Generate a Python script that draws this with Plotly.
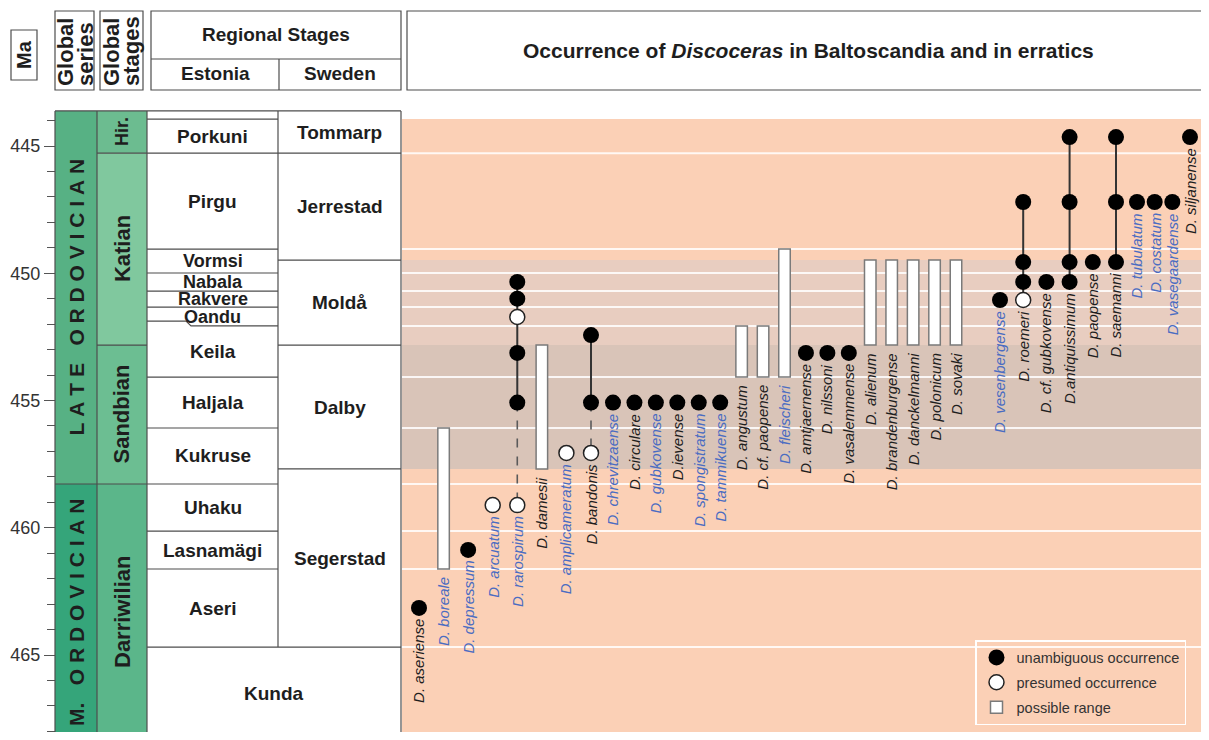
import plotly.graph_objects as go

# ---------------- data ----------------
species = [
    "D. aseriense", "D. boreale", "D. depressum", "D. arcuatum", "D. rarospirum",
    "D. damesii", "D. amplicameratum", "D. bandonis", "D. chrevitzaense", "D. circulare",
    "D. gubkovense", "D.ievense", "D. spongistratum", "D. tammikuense", "D. angustum",
    "D. cf. paopense", "D. fleischeri", "D. amtjaernense", "D. nilssoni", "D. vasalemmense",
    "D. alienum", "D. brandenburgense", "D. danckelmanni", "D. polonicum", "D. sovaki",
    "D. vesenbergense", "D. roemeri", "D. cf. gubkovense", "D.antiquissimum", "D. paopense",
    "D. saemanni", "D. tubulatum", "D. costatum", "D. vasegaardense", "D. siljanense",
]
erratic_record = [
    False, True, True, True, True,
    False, True, False, True, False,
    True, False, True, True, False,
    False, True, False, False, False,
    False, False, False, False, False,
    True, False, False, False, False,
    False, True, True, True, False,
]

unamb_species = [
    "D. aseriense", "D. depressum",
    "D. rarospirum", "D. rarospirum", "D. rarospirum", "D. rarospirum",
    "D. bandonis", "D. bandonis",
    "D. chrevitzaense", "D. circulare", "D. gubkovense", "D.ievense", "D. spongistratum", "D. tammikuense",
    "D. amtjaernense", "D. nilssoni", "D. vasalemmense",
    "D. vesenbergense",
    "D. roemeri", "D. roemeri", "D. roemeri",
    "D. cf. gubkovense",
    "D.antiquissimum", "D.antiquissimum", "D.antiquissimum", "D.antiquissimum",
    "D. paopense",
    "D. saemanni", "D. saemanni", "D. saemanni",
    "D. tubulatum", "D. costatum", "D. vasegaardense",
    "D. siljanense",
]
unamb_age = [
    463.15, 460.87,
    455.08, 453.13, 451.00, 450.34,
    455.08, 452.43,
    455.08, 455.08, 455.08, 455.08, 455.08, 455.08,
    453.13, 453.13, 453.13,
    451.05,
    450.34, 449.56, 447.20,
    450.34,
    450.34, 449.56, 447.20, 444.65,
    449.56,
    449.56, 447.20, 444.65,
    447.20, 447.20, 447.20,
    444.65,
]

pres_species = ["D. arcuatum", "D. rarospirum", "D. rarospirum", "D. amplicameratum", "D. bandonis", "D. roemeri"]
pres_age = [459.11, 459.11, 451.72, 457.06, 457.06, 451.05]

range_species = ["D. boreale", "D. damesii", "D. angustum", "D. cf. paopense", "D. fleischeri",
                 "D. alienum", "D. brandenburgense", "D. danckelmanni", "D. polonicum", "D. sovaki"]
range_top = [456.08, 452.82, 452.07, 452.07, 449.05, 449.48, 449.48, 449.48, 449.48, 449.48]
range_base = [461.62, 457.69, 454.08, 454.08, 454.08, 452.82, 452.82, 452.82, 452.82, 452.82]

link_species = ["D. rarospirum", "D. rarospirum", "D. bandonis", "D. bandonis",
                "D. roemeri", "D.antiquissimum", "D. saemanni"]
link_top = [450.34, 455.08, 452.43, 455.08, 447.20, 444.65, 444.65]
link_base = [455.08, 459.11, 455.08, 457.06, 451.05, 450.34, 449.56]
link_certain = [True, False, True, False, True, True, True]

# stratigraphy (ages in Ma)
column_top = 443.62
axis_top = 443.585
ref_bottom = 468.34
series_names = ["LATE ORDOVICIAN", "M. ORDOVICIAN"]
series_bases = [458.28, 469.0]
stage_names = ["Hir.", "Katian", "Sandbian", "Darriwilian"]
stage_bases = [445.28, 452.82, 458.28, 469.0]
estonia_names = ["", "Porkuni", "Pirgu", "Vormsi", "Nabala", "Rakvere", "Oandu",
                 "Keila", "Haljala", "Kukruse", "Uhaku", "Lasnamägi", "Aseri"]
estonia_bases = [443.94, 445.28, 449.05, 449.99, 450.70, 451.33, 452.07,
                 454.08, 456.08, 458.28, 460.13, 461.62, 464.69]
oandu_base_west = 451.88
sweden_names = ["Tommarp", "Jerrestad", "Moldå", "Dalby", "Segerstad"]
sweden_bases = [445.28, 449.48, 452.82, 457.69, 464.69]
shared_name = "Kunda"
shared_base = 469.0

# ---------------- layout helpers ----------------
# helpers take page pixel coordinates; the html body adds an 8 px margin all round
OFF = 8
PAGE_W, PAGE_H = 1209, 740
W, H = PAGE_W - 2 * OFF, PAGE_H - 2 * OFF
TOP = 110 - OFF
PX_PER_MA = 25.45
axis_bottom = axis_top + (PAGE_H - OFF - 110) / PX_PER_MA
FONT = "Liberation Sans, Arial, Helvetica, sans-serif"
EDGE = "#4d4d4d"
TXT = "#1e1e1e"
BLUE = "#4a6cc2"

# column groups of the occurrence panel: first species index, page px of first/last column centre
GROUP_FIRST = [0, 8, 25, 31]
GROUP_PX = [(419, 591), (613, 956), (1000, 1116), (1137, 1190)]
GROUP_AXES = ["x", "x3", "x4", "x5"]
BAR_PX = 11.5


def px_x(px):
    return (px - OFF) / W


def px_y(py):
    return (H - (py - OFF)) / (H - TOP)


shapes = []
annotations = []


def hline_x2(x0, x1, y, width=1.2):
    shapes.append(dict(type="line", xref="x2", yref="y", x0=x0, x1=x1, y0=y, y1=y,
                       line=dict(color=EDGE, width=width), layer="above"))


def vline_x2(x, y0, y1, width=1.2):
    shapes.append(dict(type="line", xref="x2", yref="y", x0=x, x1=x, y0=y0, y1=y1,
                       line=dict(color=EDGE, width=width), layer="above"))


def fill_x2(x0, x1, y0, y1, color):
    shapes.append(dict(type="rect", xref="x2", yref="y", x0=x0, x1=x1, y0=y0, y1=y1,
                       fillcolor=color, line=dict(width=0), layer="below"))


def paper_box(x0, y0, x1, y1):
    shapes.append(dict(type="rect", xref="paper", yref="paper", x0=px_x(x0), x1=px_x(x1),
                       y0=px_y(y1), y1=px_y(y0), line=dict(color=EDGE, width=1.2),
                       fillcolor="rgba(0,0,0,0)"))


def paper_line(x0, y0, x1, y1):
    shapes.append(dict(type="line", xref="paper", yref="paper", x0=px_x(x0), x1=px_x(x1),
                       y0=px_y(y0), y1=px_y(y1), line=dict(color=EDGE, width=1.2)))


def paper_text(text, x, y, size, angle=0, xanchor="center", yanchor="middle"):
    annotations.append(dict(text=text, xref="paper", yref="paper", x=px_x(x), y=px_y(y),
                            showarrow=False, textangle=angle, xanchor=xanchor, yanchor=yanchor,
                            font=dict(family=FONT, size=size, color=TXT), borderpad=0))


def col_text(text, x, y, size, angle=0):
    annotations.append(dict(text=text, xref="x2", yref="y", x=x, y=y, showarrow=False,
                            textangle=angle, xanchor="center", yanchor="middle",
                            font=dict(family=FONT, size=size, color=TXT), borderpad=0))


def spaced(text):
    out = []
    for ch in text:
        if ch == " ":
            out.append("\u00a0\u00a0\u00a0")
        else:
            if out and out[-1] != "\u00a0\u00a0\u00a0" and ch != ".":
                out.append("\u00a0")
            out.append(ch)
    return "".join(out)


# ---------------- chart background (Ma bands + stage lines) ----------------
CH0 = px_x(402)
shapes.append(dict(type="rect", xref="paper", yref="y", x0=CH0, x1=1, y0=estonia_bases[0], y1=shared_base,
                   fillcolor="#fbd0b6", line=dict(width=0), layer="below"))
shapes.append(dict(type="rect", xref="paper", yref="y", x0=CH0, x1=1, y0=sweden_bases[1], y1=sweden_bases[2],
                   fillcolor="#e8cdc0", line=dict(width=0), layer="below"))
shapes.append(dict(type="rect", xref="paper", yref="y", x0=CH0, x1=1, y0=sweden_bases[2], y1=sweden_bases[3],
                   fillcolor="#d9c4b8", line=dict(width=0), layer="below"))
for b in estonia_bases[1:]:
    shapes.append(dict(type="line", xref="paper", yref="y", x0=CH0, x1=1, y0=b, y1=b,
                       line=dict(color="rgba(255,255,255,0.85)", width=2), layer="below"))

# ---------------- stratigraphic column (x2 units = page px) ----------------
SER = (55, 97)
STG = (97, 147)
EST = (147, 278)
SWE = (278, 401)
series_colors = ["#57b184", "#35a57a"]
stage_colors = ["#6cbc90", "#80c89e", "#6cbe92", "#5bb68a"]

tops = [column_top] + series_bases[:-1]
for name, t, b, c in zip(series_names, tops, series_bases, series_colors):
    fill_x2(SER[0], SER[1], t, b, c)
    col_text("<b>" + spaced(name) + "</b>", (SER[0] + SER[1]) / 2, (t + min(b, ref_bottom)) / 2, 21, -90)

tops = [column_top] + stage_bases[:-1]
for name, t, b, c in zip(stage_names, tops, stage_bases, stage_colors):
    fill_x2(STG[0], STG[1], t, b, c)
    col_text("<b>" + name + "</b>", (STG[0] + STG[1]) / 2, (t + min(b, ref_bottom)) / 2,
             18 if len(name) < 5 else 22, -90)

tops = [column_top] + estonia_bases[:-1]
for name, t, b in zip(estonia_names, tops, estonia_bases):
    if name:
        thin = (b - t) * PX_PER_MA < 26
        col_text("<b>" + name + "</b>", (EST[0] + EST[1]) / 2, (t + b) / 2, 18 if thin else 19)
tops = [column_top] + sweden_bases[:-1]
for name, t, b in zip(sweden_names, tops, sweden_bases):
    col_text("<b>" + name + "</b>", (SWE[0] + SWE[1]) / 2, (t + b) / 2, 19)
col_text("<b>" + shared_name + "</b>", (EST[0] + SWE[1]) / 2, (sweden_bases[-1] + ref_bottom) / 2, 19)

hline_x2(SER[0], SWE[1], column_top)
for b in estonia_bases[:-1]:
    if b == estonia_bases[6]:
        continue
    hline_x2(EST[0], EST[1], b)
shapes.append(dict(type="path", xref="x2", yref="y",
                   path=f"M {EST[0]},{oandu_base_west} L 186,{oandu_base_west} L 191,{estonia_bases[6]} L {EST[1]},{estonia_bases[6]}",
                   line=dict(color=EDGE, width=1.2), layer="above"))
hline_x2(EST[0], SWE[1], estonia_bases[-1])
for b in sweden_bases[:-1]:
    hline_x2(SWE[0], SWE[1], b)
for b in stage_bases[:-2]:
    hline_x2(STG[0], STG[1], b)
hline_x2(SER[0], STG[1], series_bases[0])
for x in (SER[0], SER[1], STG[1], SWE[1]):
    vline_x2(x, column_top, shared_base)
vline_x2(SWE[0], column_top, sweden_bases[-1])

# ---------------- header ----------------
paper_box(11, 30, 37, 80)
paper_text("<b>Ma</b>", 24, 55, 20, -90)
paper_box(55, 11, 94, 90)
paper_text("<b>Global</b>", 65, 87, 22, -90, yanchor="bottom")
paper_text("<b>series</b>", 85, 87, 22, -90, yanchor="bottom")
paper_box(100, 11, 143, 90)
paper_text("<b>Global</b>", 111, 87, 22, -90, yanchor="bottom")
paper_text("<b>stages</b>", 131, 87, 22, -90, yanchor="bottom")
paper_box(151, 11, 401, 90)
paper_line(151, 59, 401, 59)
paper_line(279, 59, 279, 90)
paper_text("<b>Regional Stages</b>", 276, 35, 19)
paper_text("<b>Estonia</b>", 215, 74, 19)
paper_text("<b>Sweden</b>", 340, 74, 19)
paper_box(407, 11, 1212, 90)
paper_text("<b>Occurrence of <i>Discoceras</i> in Baltoscandia and in erratics</b>", 808, 50, 21)

# ---------------- column groups -> category axes ----------------
fig = go.Figure()
axis_layout = {}
group_of = {}
group_step = []
bounds = GROUP_FIRST + [len(species)]
for g, ax in enumerate(GROUP_AXES):
    members = species[bounds[g]:bounds[g + 1]]
    for s in members:
        group_of[s] = g
    n = len(members)
    p0, p1 = GROUP_PX[g]
    step = (p1 - p0) / (n - 1)
    group_step.append(step)
    lo = p0 - step / 2
    hi = min(p1 + step / 2, PAGE_W - OFF)
    key = "xaxis" if ax == "x" else "xaxis" + ax[1:]
    axis_layout[key] = dict(domain=[px_x(lo), px_x(hi)], type="category", categoryorder="array",
                            categoryarray=members, range=[-(p0 - lo) / step, (n - 1) + (hi - p1) / step],
                            visible=False, anchor="y")


def pick(g, names, *cols):
    idx = [i for i, s in enumerate(names) if group_of[s] == g]
    return [[names[i] for i in idx]] + [[c[i] for i in idx] for c in cols]


legend_done = set()
for g, ax in enumerate(GROUP_AXES):
    for certain in (True, False):
        xs, ys = [], []
        for s, t, b, c in zip(link_species, link_top, link_base, link_certain):
            if c == certain and group_of[s] == g:
                xs += [s, s, None]
                ys += [t, b, None]
        if xs:
            fig.add_trace(go.Scatter(x=xs, y=ys, xaxis=ax, yaxis="y", mode="lines", showlegend=False,
                                     hoverinfo="skip",
                                     line=dict(color="#333333" if certain else "#5a5a5a",
                                               width=2 if certain else 1.6,
                                               dash="solid" if certain else "dash")))
    rs, rt, rb = pick(g, range_species, range_top, range_base)
    if rs:
        fig.add_trace(go.Bar(x=rs, y=[b - t for t, b in zip(rt, rb)], base=rt, xaxis=ax, yaxis="y",
                             width=BAR_PX / group_step[g], name="possible range", legendrank=3,
                             legendgroup="c", showlegend="c" not in legend_done, hoverinfo="skip",
                             marker=dict(color="white", line=dict(color="#7a7a7a", width=1.5))))
        legend_done.add("c")
    us, ua = pick(g, unamb_species, unamb_age)
    if us:
        fig.add_trace(go.Scatter(x=us, y=ua, xaxis=ax, yaxis="y", mode="markers",
                                 name="unambiguous occurrence", legendrank=1, legendgroup="a",
                                 showlegend="a" not in legend_done, hoverinfo="skip",
                                 marker=dict(symbol="circle", size=16, color="black", line=dict(width=0))))
        legend_done.add("a")
    ps, pa = pick(g, pres_species, pres_age)
    if ps:
        fig.add_trace(go.Scatter(x=ps, y=pa, xaxis=ax, yaxis="y", mode="markers",
                                 name="presumed occurrence", legendrank=2, legendgroup="b",
                                 showlegend="b" not in legend_done, hoverinfo="skip",
                                 marker=dict(symbol="circle", size=15, color="white",
                                             line=dict(color="#222222", width=1.5))))
        legend_done.add("b")

# species labels below the oldest record
bottom, kind = {}, {}
for s, a in zip(unamb_species + pres_species, unamb_age + pres_age):
    if a > bottom.get(s, -1):
        bottom[s], kind[s] = a, "dot"
for s, t, b in zip(range_species, range_top, range_base):
    if b > bottom.get(s, -1):
        bottom[s], kind[s] = b, "bar"
for s, blue in zip(species, erratic_record):
    annotations.append(dict(text=s, x=s, y=bottom[s], xref=GROUP_AXES[group_of[s]], yref="y",
                            showarrow=False, textangle=-90, xanchor="center", yanchor="top",
                            yshift=-10 if kind[s] == "dot" else -7, borderpad=0,
                            font=dict(family=FONT, size=15, style="italic", color=BLUE if blue else TXT)))

fig.add_trace(go.Scatter(x=[], y=[], xaxis="x2", yaxis="y", showlegend=False))

fig.update_layout(
    width=W, height=H,
    margin=dict(l=0, r=0, t=TOP, b=0),
    paper_bgcolor="white", plot_bgcolor="rgba(0,0,0,0)",
    barmode="overlay", hovermode=False,
    font=dict(family=FONT, color=TXT),
    xaxis2=dict(domain=[0, px_x(402)], range=[OFF, 402], visible=False, anchor="y"),
    yaxis=dict(range=[axis_bottom, axis_top], anchor="free", position=px_x(55), side="left",
               showgrid=False, zeroline=False, showline=False,
               tick0=445, dtick=5, ticks="outside", ticklen=11, tickwidth=1.2, tickcolor="#555555",
               tickfont=dict(family=FONT, size=18, color="#333333"),
               minor=dict(dtick=1, ticks="outside", ticklen=8, tickwidth=1.2, tickcolor="#555555")),
    legend=dict(x=px_x(975), y=px_y(640), xanchor="left", yanchor="top",
                bgcolor="rgba(0,0,0,0)", bordercolor="white", borderwidth=1.5,
                font=dict(family=FONT, size=14.5, color="#333333"), tracegroupgap=3),
    shapes=shapes,
    annotations=annotations,
    **axis_layout,
)

fig.write_html("out.html")
